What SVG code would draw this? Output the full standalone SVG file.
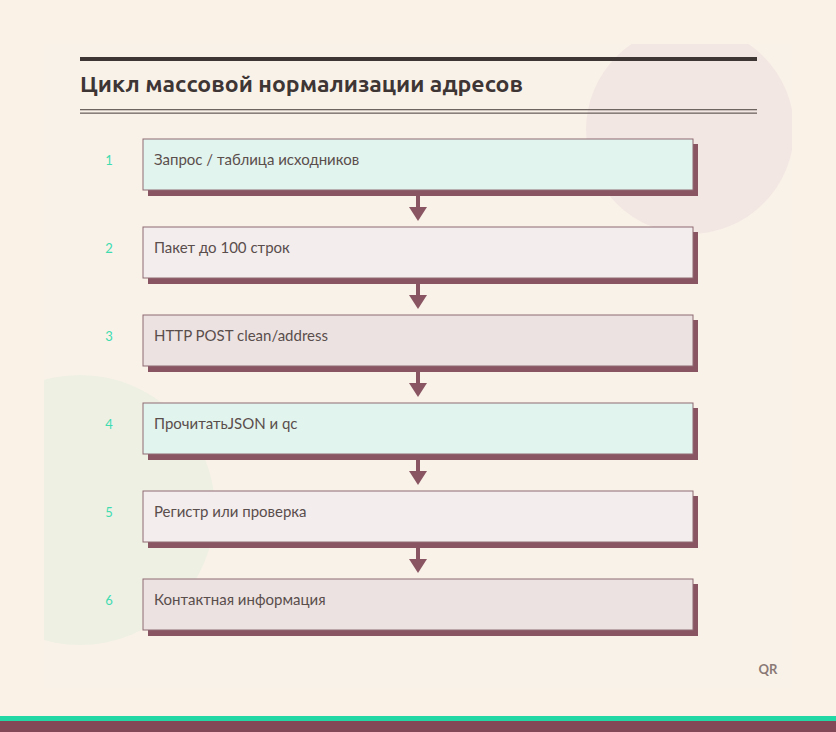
<svg xmlns="http://www.w3.org/2000/svg" width="836" height="732" viewBox="0 0 836 732">
<defs>
<style>
.box{stroke:#8e6a72;stroke-width:1}
.sh{fill:#8a5563}
.lbl{font-family:Lato,"Open Sans",sans-serif;font-size:15px;fill:#5a4e4c}
.num{font-family:Lato,"Open Sans",sans-serif;font-size:13px;fill:#3fdcb0;text-anchor:middle}
.c{fill:#8a5563}
</style>
<clipPath id="cp"><rect x="44" y="44" width="748" height="644"/></clipPath>
</defs>
<rect width="836" height="732" fill="#faf2e7"/>
<rect x="44" y="44" width="748" height="644" fill="#f9f2e8"/>
<g clip-path="url(#cp)">
<circle cx="690" cy="130" r="104" fill="#f3e7e3"/>
<circle cx="80" cy="510" r="135" fill="#eff0e4"/>
</g>
<rect x="0" y="716" width="836" height="5" fill="#22d8a4"/>
<rect x="0" y="721" width="836" height="11" fill="#834858"/>
<rect x="80" y="57" width="677" height="4" fill="#3e3535"/>
<text x="80" y="92" font-family="Ubuntu,Lato,'Open Sans',sans-serif" font-weight="bold" font-size="22" fill="#3e3535" textLength="443" lengthAdjust="spacingAndGlyphs">Цикл массовой нормализации адресов</text>
<rect x="80" y="109" width="677" height="1.3" fill="#6e6460"/>
<rect x="80" y="112.5" width="677" height="1.3" fill="#6e6460"/>
<g id="connectors">
<g class="c"><rect x="416" y="196" width="4" height="12"/><path d="M409,207 L427,207 L418,221 Z"/></g>
<g class="c"><rect x="416" y="284" width="4" height="12"/><path d="M409,295 L427,295 L418,309 Z"/></g>
<g class="c"><rect x="416" y="372" width="4" height="12"/><path d="M409,383 L427,383 L418,397 Z"/></g>
<g class="c"><rect x="416" y="460" width="4" height="12"/><path d="M409,471 L427,471 L418,485 Z"/></g>
<g class="c"><rect x="416" y="548" width="4" height="12"/><path d="M409,559 L427,559 L418,573 Z"/></g>
</g>
<g id="n1"><rect class="sh" x="148" y="144" width="550" height="52"/><rect class="box" x="143" y="139" width="550" height="51" fill="#e2f4ee"/><text class="num" x="109" y="165">1</text><text class="lbl" x="154" y="165">Запрос / таблица исходников</text></g>
<g id="n2"><rect class="sh" x="148" y="232" width="550" height="52"/><rect class="box" x="143" y="227" width="550" height="51" fill="#f3edee"/><text class="num" x="109" y="253">2</text><text class="lbl" x="154" y="253">Пакет до 100 строк</text></g>
<g id="n3"><rect class="sh" x="148" y="320" width="550" height="52"/><rect class="box" x="143" y="315" width="550" height="51" fill="#ece2e2"/><text class="num" x="109" y="341">3</text><text class="lbl" x="154" y="341">HTTP POST clean/address</text></g>
<g id="n4"><rect class="sh" x="148" y="408" width="550" height="52"/><rect class="box" x="143" y="403" width="550" height="51" fill="#e2f4ee"/><text class="num" x="109" y="429">4</text><text class="lbl" x="154" y="429">ПрочитатьJSON и qc</text></g>
<g id="n5"><rect class="sh" x="148" y="496" width="550" height="52"/><rect class="box" x="143" y="491" width="550" height="51" fill="#f3edee"/><text class="num" x="109" y="517">5</text><text class="lbl" x="154" y="517">Регистр или проверка</text></g>
<g id="n6"><rect class="sh" x="148" y="584" width="550" height="52"/><rect class="box" x="143" y="579" width="550" height="51" fill="#ece2e2"/><text class="num" x="109" y="605">6</text><text class="lbl" x="154" y="605">Контактная информация</text></g>
<text x="768" y="674" font-family="Lato,'Open Sans',sans-serif" font-size="13" fill="#8a7a76" text-anchor="middle" font-weight="bold">QR</text>
</svg>
